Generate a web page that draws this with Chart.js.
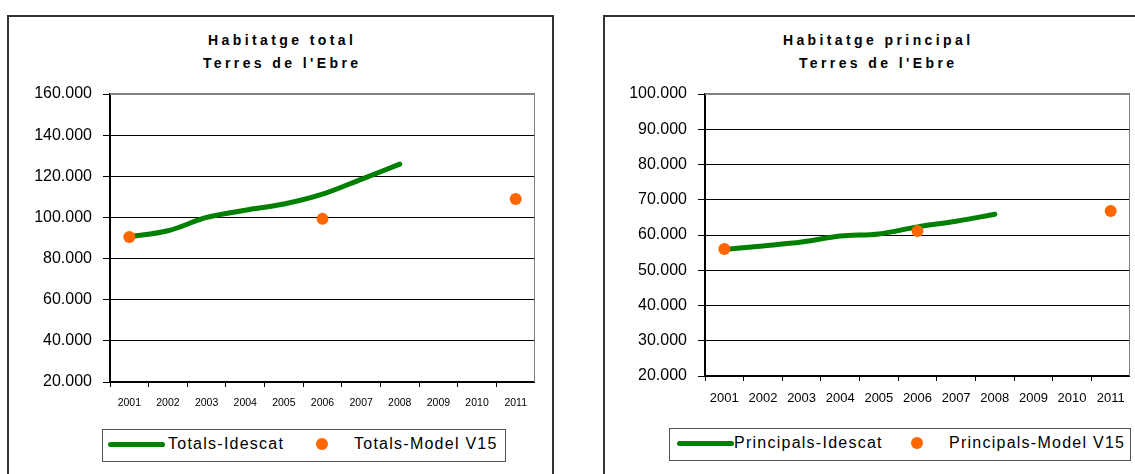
<!DOCTYPE html>
<html lang="ca">
<head>
<meta charset="utf-8">
<title>Habitatge - Terres de l'Ebre</title>
<script src="https://cdn.jsdelivr.net/npm/chart.js@4.4.1/dist/chart.umd.min.js"></script>
<style>
    html, body {
        margin: 0;
        padding: 0;
        width: 1135px;
        height: 474px;
        overflow: hidden;
        background: #fff;
        font-family: Arial, "Liberation Sans", sans-serif;
        color: #000;
    }
    .panel {
        position: absolute;
        top: 15px;
        width: 547px;
        height: 500px;
        border: 2px solid #333;
        box-sizing: border-box;
    }
    .title {
        position: absolute;
        top: 29px;
        width: 547px;
        text-align: center;
        font-weight: bold;
        font-size: 14px;
        line-height: 22.5px;
        letter-spacing: 3.4px;
        padding-left: 3.4px;
        box-sizing: border-box;
        white-space: nowrap;
    }
    canvas {
        position: absolute;
    }
    .legend-box {
        position: absolute;
        height: 33px;
        border: 1.5px solid #555;
        box-sizing: border-box;
    }
    .legend-line {
        position: absolute;
        height: 5px;
        border-radius: 3px;
        background: #008000;
    }
    .legend-dot {
        position: absolute;
        width: 12px;
        height: 12px;
        border-radius: 50%;
        background: #ff6600;
    }
    .legend-text {
        position: absolute;
        font-size: 16px;
        line-height: 20px;
        letter-spacing: 1.25px;
        white-space: nowrap;
    }
</style>
</head>
<body>
<div class="panel" style="left:7px"></div>
<div class="panel" style="left:603px"></div>
<div class="title" style="left:7px">Habitatge total<br>Terres de l'Ebre</div>
<div class="title" style="left:603px">Habitatge principal<br>Terres de l'Ebre</div>

<canvas id="chart-total" width="525" height="330" style="left:10px;top:80px"></canvas>
<canvas id="chart-principal" width="525" height="330" style="left:605px;top:80px"></canvas>

<div id="legend-total"></div>
<div id="legend-principal"></div>

<script>
// categories (years)
const years = ['2001', '2002', '2003', '2004', '2005', '2006', '2007', '2008', '2009', '2010', '2011'];

// Habitatge total
const totalsIdescat = [90600, 93500, 100000, 103500, 106500, 111300, 118500, 125900, null, null, null];
const totalsModel = [90500, null, null, null, null, 99300, null, null, null, null, 109000];

// Habitatge principal
const principalsIdescat = [55900, 56900, 58000, 59700, 60300, 62300, 63900, 65900, null, null, null];
const principalsModel = [56000, null, null, null, null, 61100, null, null, null, null, 66800];

// y axis ranges
const totalTicks = { min: 20000, max: 160000, step: 20000 };
const principalTicks = { min: 20000, max: 100000, step: 10000 };

const seriesNamesTotal = ['Totals-Idescat', 'Totals-Model V15'];
const seriesNamesPrincipal = ['Principals-Idescat', 'Principals-Model V15'];

const GREEN = '#008000';
const ORANGE = '#ff6600';

// thousands with a dot, as in the original
function formatThousands(v) {
    return String(v).replace(/\B(?=(\d{3})+(?!\d))/g, '.');
}

// gray frame on top and right of the plot
const plotFrame = {
    id: 'plotFrame',
    beforeDatasetsDraw(chart) {
        const { ctx, chartArea: a } = chart;
        ctx.save();
        ctx.strokeStyle = '#808080';
        ctx.lineWidth = 2;
        ctx.beginPath();
        ctx.moveTo(a.left, a.top);
        ctx.lineTo(a.right, a.top);
        ctx.lineTo(a.right, a.bottom);
        ctx.stroke();
        ctx.restore();
    }
};

// fixed axis sizes, no extra label overflow padding
function fixSize(size) {
    return (scale) => {
        if (scale.isHorizontal()) {
            scale.height = size;
        } else {
            scale.width = size;
        }
        scale.paddingTop = 0;
        scale.paddingBottom = 0;
        scale.paddingLeft = 0;
        scale.paddingRight = 0;
    };
}

function makeChart(canvasId, names, lineData, dotData, range, xFontSize, xAxisHeight) {
    const ctx = document.getElementById(canvasId).getContext('2d');
    return new Chart(ctx, {
        type: 'line',
        data: {
            labels: years,
            datasets: [
                {
                    label: names[1],
                    data: dotData,
                    showLine: false,
                    pointRadius: 6,
                    pointHoverRadius: 6,
                    pointBorderWidth: 0,
                    pointBackgroundColor: ORANGE,
                    borderColor: ORANGE,
                    order: 1
                },
                {
                    label: names[0],
                    data: lineData,
                    borderColor: GREEN,
                    borderWidth: 5,
                    borderCapStyle: 'round',
                    borderJoinStyle: 'round',
                    cubicInterpolationMode: 'monotone',
                    pointRadius: 0,
                    pointHoverRadius: 0,
                    fill: false,
                    order: 2
                }
            ]
        },
        options: {
            responsive: false,
            animation: false,
            events: [],
            layout: {
                autoPadding: false,
                padding: { top: 14, left: 0, right: 0, bottom: 0 }
            },
            scales: {
                x: {
                    offset: true,
                    grid: {
                        offset: true,
                        drawOnChartArea: false,
                        drawTicks: true,
                        tickLength: 5,
                        color: '#000',
                        lineWidth: 1
                    },
                    border: { color: '#000', width: 2 },
                    ticks: {
                        color: '#000',
                        padding: 10,
                        maxRotation: 0,
                        autoSkip: false,
                        font: { family: 'Arial, "Liberation Sans", sans-serif', size: xFontSize }
                    },
                    afterFit: fixSize(xAxisHeight)
                },
                y: {
                    min: range.min,
                    max: range.max,
                    grid: {
                        color: '#000',
                        lineWidth: 1,
                        tickLength: 7
                    },
                    border: { color: '#000', width: 2 },
                    ticks: {
                        stepSize: range.step,
                        color: '#000',
                        padding: 11,
                        font: { family: 'Arial, "Liberation Sans", sans-serif', size: 16 },
                        callback: (v) => formatThousands(v)
                    },
                    afterFit: fixSize(100)
                }
            },
            plugins: {
                legend: { display: false },
                tooltip: { enabled: false },
                title: { display: false }
            }
        },
        plugins: [plotFrame]
    });
}

// HTML legend with a box, like the spreadsheet one
function buildLegend(containerId, names, pos) {
    const el = document.getElementById(containerId);
    el.innerHTML = `
        <div class="legend-box" style="left:${pos.box}px;top:${pos.top}px;width:${pos.width}px"></div>
        <div class="legend-line" style="left:${pos.line}px;top:${pos.cy - 2.5}px;width:57px"></div>
        <span class="legend-text" style="left:${pos.text1}px;top:${pos.cy - 10}px">${names[0]}</span>
        <div class="legend-dot" style="left:${pos.dot - 6}px;top:${pos.cy - 6}px"></div>
        <span class="legend-text" style="left:${pos.text2}px;top:${pos.cy - 10}px">${names[1]}</span>
    `;
}

document.addEventListener('DOMContentLoaded', () => {
    makeChart('chart-total', seriesNamesTotal, totalsIdescat, totalsModel, totalTicks, 10.5, 28);
    makeChart('chart-principal', seriesNamesPrincipal, principalsIdescat, principalsModel, principalTicks, 13, 34);

    buildLegend('legend-total', seriesNamesTotal,
        { box: 102, top: 429, width: 404, cy: 444, line: 108, text1: 168, dot: 322, text2: 354 });
    buildLegend('legend-principal', seriesNamesPrincipal,
        { box: 669, top: 428, width: 462, cy: 443, line: 677, text1: 734, dot: 917, text2: 949 });
});
</script>
</body>
</html>
